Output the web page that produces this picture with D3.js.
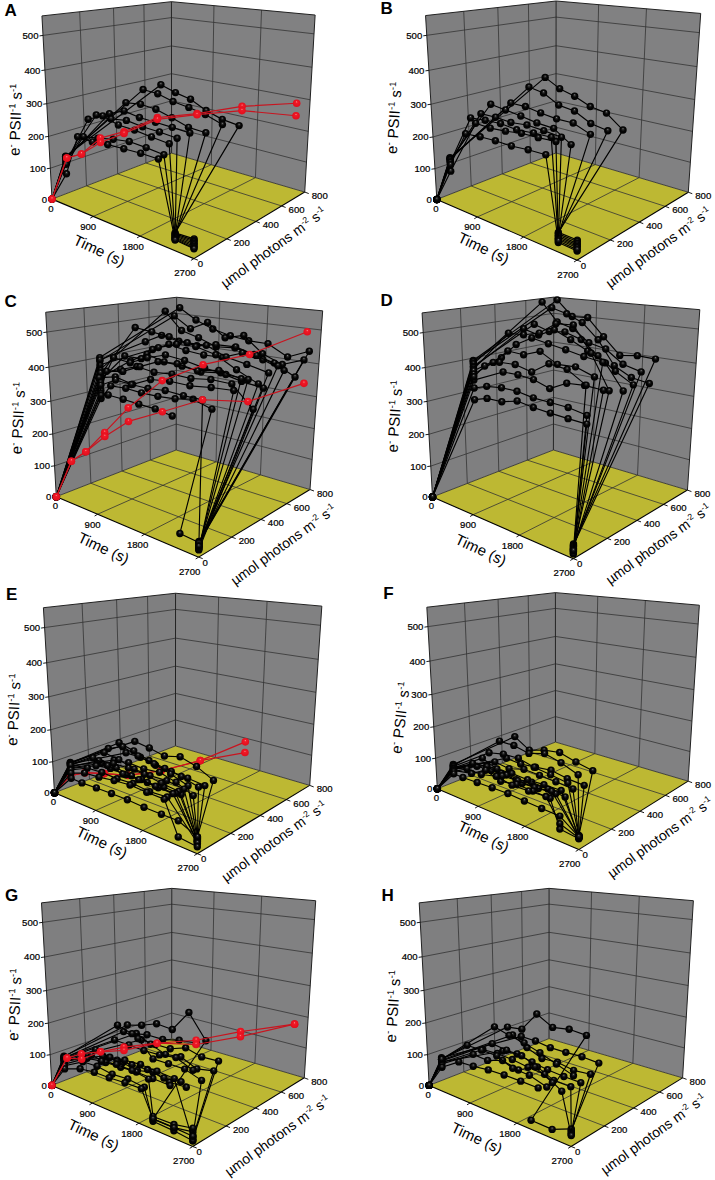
<!DOCTYPE html>
<html><head><meta charset="utf-8">
<script src="https://cdnjs.cloudflare.com/ajax/libs/d3/7.8.5/d3.min.js"></script>
<style>html,body{margin:0;padding:0;background:#fff}svg{display:block}
text{font-family:"Liberation Sans",Arial,sans-serif;fill:#000}</style></head><body>
<script>
// ---------- axis values ----------
const yTicks=[0,100,200,300,400,500], timeTicks=[0,900,1800,2700], parTicks=[0,200,400,600,800];
const yMax=555, timeMax=2700, parMax=800;
// ---------- shared time grids (s) ----------
const timesStd=[600,900,1200,1500,1800,2100];
const timesLong=[600,900,1200,1500,1800,2100,2400];
const timesC=[300,640,980,1320,1660,2000,2340,2680];
const redT=[0,320,578,860,1160,1480,1780,2050,2480];
const redP=[0,16,32,64,112,208,352,560,800];
// ---------- Panel A ----------
const parA=[520,400,290,190,115,70,40,10];
const firstA=[150,148,145,140,135,130,125,95];
const rowsA=[[313,297,286,261,245,238],[312,309,295,288,278,260],[285,291,287,273,257,254],[265,285,277,275,273,270],[272,272,280,274,272,268],[266,288,274,272,266,261],[219,228,238,245,242,237],[224,222,228,230,232,231]];
const dropA=[[50,54],[47,50],[44,46],[41,42],[38,38],[35,34],[32,30],[30,27]];
const redA=[[0,145,167,222,246,285,287,289,281],[0,145,167,209,241,280,284,276,241]];
// ---------- Panel B ----------
const parB=[520,411,295,176,119,62,32,88];
const firstB=[147,145,142,140,135,132,125,105];
const rowsB=[[337,310,296,274,265,225],[319,310,283,276,250,241],[284,284,276,270,270,250],[297,291,285,277,274,242],[277,278,275,280,277,272],[273,278,281,276,280,282],[231,235,237,236,240,241],[253,251,255,262,263,266]];
const dropB=[[55,55],[51,51],[47,46],[43,42],[39,38],[35,34],[31,29],[27,25]];
// ---------- Panel C ----------
const parC=[720,680,616,416,348,280,236,192,176,160,480,528,384,120,320];
const firstC=[407,397,370,354,338,322,306,296,280,290,400,385,345,330,360];
const rowsC=[[529,495,473,459,451,450,419,445],[505,470,497,456,471,424,401,424],[524,469,454,434,439,428,412,382],[487,481,474,464,465,441,430,417],[405,406,448,466,468,454,423,396],[407,401,425,442,436,425,418,416],[370,380,404,428,432,423,434,423],[356,369,358,383,389,388,395,399],[343,346,343,344,348,358,343],[318,316,313,311,303],[437,465,455,450,461,463,448,429],[408,433,422,417,419,441,431,411],[386,416,402,399,392,400,387,380],[352,377,374,373,378,375,375],[366,385,378,383,381,389,388,332]];
const timesRowC=[timesC,timesC,timesC,timesC,timesC,timesC,timesC,timesC,timesLong,timesLong,timesC,timesC,timesC,timesLong,timesC];
const dropC=[[null,43],[null,40],[null,38],[null,35],[null,30],[null,28],[null,25],[null,22],[44,40],[null,null],[null,36],[null,33],[null,20],[null,30],[null,26]];
const redC=[[0,128,167,232,308,383,420,435,490],[0,128,167,220,269,295,320,295,334]];
// ---------- Panel D ----------
const parD=[622,584,520,468,400,308,264,216,168,272,176,176];
const firstD=[409,405,399,392,388,383,378,368,360,350,326,290];
const rowsD=[[564,517,519,467,418,425,423],[542,528,507,461,391,365,357],[563,508,494,458,447,411,398],[499,483,488,472,433,397,368],[491,478,500,478,453,428,360],[485,487,498,530,532,464,373],[417,463,488,479,470,460,453],[408,449,446,463,436,438,421],[403,422,424,412,443,437,406],[373,374,369,353,378,382,379],[342,348,348,340,338,336,327],[306,307,320,313,309,306,304]];
const dropD=[[40],[37],[35],[33],[30],[28],[26],[24],[22],[20],[16],[13]];
// ---------- Panel E ----------
const parE=[320,224,160,104,72,40,24,8,120,192,136,264,88];
const firstE=[109,107,105,95,100,85,75,59,92,98,102,104,90];
const rowsE=[[134,127,116,129,115,89],[147,136,121,113,105,91],[141,161,148,140,126,109],[114,121,123,121,112,106],[129,121,112,112,110,107],[104,107,105,108,102,105],[92,96,103,107,104,103],[65,67,68,68,65,65],[102,104,96,93,97,93],[98,105,102,108,95,73],[133,126,113,110,112,105],[107,108,98,95,91,86],[101,109,106,109,102,104]];
const dropE=[[null,46],[null,40],[null,38],[null,36],[null,33],[null,30],[24,19],[69,46],[null,35],[null,42],[null,34],[null,44],[null,28]];
const redE=[[0,70,90,96,97,108,125,157],[0,70,90,96,97,108,125,123]];
// ---------- Panel F ----------
const parF=[312,216,152,184,112,56,0,48,24,80,256,136];
const firstF=[91,88,85,83,80,76,61,72,68,78,79,76];
const rowsF=[[140,110,125,133,119,109],[143,144,134,149,137,118],[118,129,132,121,115,108],[82,76,91,89,87,83],[109,91,94,92,95,96],[104,111,99,102,100,107],[72,74,76,77,74,72],[74,101,84,93,91,89],[94,93,105,96,97,100],[90,93,96,88,91,94],[79,76,82,89,80,77],[80,72,69,79,76,71]];
const dropF=[[null,39],[null,38],[null,37],[null,36],[null,35],[null,34],[71,35],[35,30],[50,32],[null,33],[null,36],[null,32]];
// ---------- Panel G ----------
const parG=[296,236,216,384,272,352,104,56,32,16,80,144,176];
const firstG=[110,108,106,100,104,102,90,85,80,70,92,96,98];
const rowsG=[[169,182,200,196,260,191],[179,166,177,177,189,196],[135,134,132,134,142,121],[104,103,104,122,109,112],[152,144,94,95,95,78],[131,110,92,100,78,89],[126,118,125,129,126,122],[109,116,123,122,114],[103,106,99,102,96],[85,91,92,95,96],[114,107,109,112,110,108],[98,101,103,105,97,104],[84,86,78,90,77,80]];
const dropG=[[30,30,40],[null,null,null],[null,null,null],[null,null,20],[null,null,30],[null,null,25],[null,null,16],[37,39,50],[23,21,16],[30,30,28],[null,null,null],[null,null,null],[null,null,null]];
const redG=[[0,103,127,141,161,170,166,167,168],[0,103,110,141,151,170,153,151,168]];
// ---------- Panel H ----------
const parH=[312,400,344,280,216,160,72,24,104,232];
const firstH=[100,105,98,92,95,90,100,75,85,100];
const rowsH=[[159,166,227,199,207,203],[112,111,104,104,106,102],[127,100,80,84,75,80],[86,92,82,74,70,69],[123,117,115,97,73,72],[115,118,115,108,104,72],[146,146,145,124,121,105],[104,107,113,115,115,114],[111,108,124,112,138,110],[174,161,152,137,119,101]];
const dropH=[[26,25,48],[null,null,44],[null,null,40],[null,null,36],[null,null,33],[null,null,30],[null,null,null],[null,null,null],[null,null,null],[null,null,null]];

const panels=[
 {id:"A",off:[0,0],   o:[155,597],f:[585,775],r:[915,575],b:[515,460],ot:[125,48],bt:[515,5],rt:[945,45],parV:parA,first:firstA,rows:rowsA,times:timesStd,drop:dropA,dropT:[2400,2700],firstT:300,firstP:15,red:redA,redTop:true,yl:[-108,-237,-88],tl:[142,155],pl:[665,148],letter:[32,28]},
 {id:"B",off:[360,0], o:[228,597],f:[655,780],r:[985,575],b:[590,460],ot:[197,47],bt:[588,3],rt:[1022,40],parV:parB,first:firstB,rows:rowsB,times:timesStd,drop:dropB,dropT:[2400,2700],firstT:300,firstP:15,yl:[-125,-242,-86],tl:[142,148],pl:[667,148],letter:[80,22]},
 {id:"C",off:[0,290], o:[167,620],f:[600,800],r:[930,598],b:[530,480],ot:[137,67],bt:[530,22],rt:[968,62],parV:parC,first:firstC,rows:rowsC,timesRow:timesRowC,drop:dropC,dropT:[2400,2700],firstT:150,firstP:240,red:redC,redTop:true,yl:[-112,-235,-87],tl:[143,155],pl:[683,147],letter:[32,30]},
 {id:"D",off:[360,290],o:[218,622],f:[640,805],r:[985,598],b:[580,480],ot:[187,67],bt:[580,22],rt:[1020,60],parV:parD,first:firstD,rows:rowsD,times:timesLong,drop:dropD,dropT:[2700],firstT:300,firstP:184,yl:[-113,-242,-86],tl:[144,158],pl:[677,143],letter:[80,28]},
 {id:"E",off:[0,585], o:[162,623],f:[595,805],r:[930,600],b:[527,483],ot:[130,68],bt:[527,25],rt:[965,63],parV:parE,first:firstE,rows:rowsE,times:timesStd,drop:dropE,dropT:[2400,2700],firstT:300,firstP:24,red:redE,redTop:false,yl:[-120,-248,-87],tl:[143,149],pl:[660,149],letter:[35,25]},
 {id:"F",off:[360,585],o:[230,610],f:[660,793],r:[985,587],b:[587,472],ot:[200,67],bt:[587,23],rt:[1017,60],parV:parF,first:firstF,rows:rowsF,times:timesStd,drop:dropF,dropT:[2400,2700],firstT:300,firstP:24,yl:[-108,-210,-83],tl:[140,145],pl:[670,150],letter:[85,20]},
 {id:"G",off:[0,880], o:[155,615],f:[580,800],r:[915,590],b:[515,478],ot:[125,68],bt:[515,25],rt:[947,63],parV:parG,first:firstG,rows:rowsG,times:timesStd,drop:dropG,dropT:[2050,2400,2700],firstT:300,firstP:5,red:redG,redTop:true,yl:[-110,-240,-87],tl:[125,150],pl:[677,155],letter:[35,42]},
 {id:"H",off:[360,880],o:[207,615],f:[635,800],r:[970,590],b:[567,478],ot:[178,68],bt:[567,25],rt:[1000,63],parV:parH,first:firstH,rows:rowsH,times:timesStd,drop:dropH,dropT:[2050,2400,2700],firstT:300,firstP:5,yl:[-107,-235,-86],tl:[143,160],pl:[673,150],letter:[83,42]}
];

const W=715,H=1180;
const svg=d3.select("body").append("svg").attr("width",W).attr("height",H);
svg.append("rect").attr("width",W).attr("height",H).attr("fill","#fff");
const defs=svg.append("defs");
function grad(id,stops){const g=defs.append("radialGradient").attr("id",id).attr("cx","50%").attr("cy","50%").attr("r","55%").attr("fx","50%").attr("fy","30%");
 stops.forEach(s=>g.append("stop").attr("offset",s[0]).attr("stop-color",s[1]));}
grad("ballK",[[0,"#8a8a8a"],[.2,"#2a2a2a"],[.5,"#050505"],[1,"#000"]]);
grad("ballR",[[0,"#ff8a8a"],[.25,"#f01a28"],[1,"#e00c1a"]]);

const tS=d3.scaleLinear().domain([0,timeMax]).range([0,1]);
const pS=d3.scaleLinear().domain([0,parMax]).range([0,1]);
const vS=d3.scaleLinear().domain([0,yMax]).range([0,1]);

function solve(A,b){const n=b.length,M=A.map((r,i)=>[...r,b[i]]);
 for(let c=0;c<n;c++){let m=c;for(let r=c+1;r<n;r++)if(Math.abs(M[r][c])>Math.abs(M[m][c]))m=r;[M[c],M[m]]=[M[m],M[c]];
  for(let r=0;r<n;r++){if(r===c)continue;const f=M[r][c]/M[c][c];for(let k=c;k<=n;k++)M[r][k]-=f*M[c][k];}}
 return M.map((r,i)=>r[n]/r[i]);}
function camera(pairs){const rows=[],rhs=[],N=300;
 pairs.forEach(([X,Y,Z,u,v])=>{u/=N;v/=N;
  rows.push([X,Y,Z,1,0,0,0,0,-u*X,-u*Y,-u*Z]);rhs.push(u);
  rows.push([0,0,0,0,X,Y,Z,1,-v*X,-v*Y,-v*Z]);rhs.push(v);});
 const ATA=d3.range(11).map(i=>d3.range(11).map(j=>d3.sum(rows,r=>r[i]*r[j])));
 const ATb=d3.range(11).map(i=>d3.sum(rows,(r,k)=>r[i]*rhs[k]));
 const p=solve(ATA,ATb);
 return (X,Y,Z)=>{const w=p[8]*X+p[9]*Y+p[10]*Z+1;return [N*(p[0]*X+p[1]*Y+p[2]*Z+p[3])/w,N*(p[4]*X+p[5]*Y+p[6]*Z+p[7])/w];};}

function supText(sel,parts,size){parts.forEach(([s,up])=>{
  sel.append("tspan").attr("font-size",up?size*.62:size).attr("dy",up===1?-size*.38:(up===0?size*.38:0)).text(s);});}

panels.forEach(P=>{
 const z=a=>[a[0]/3+P.off[0],a[1]/3+P.off[1]];
 const mix=(a,b,k)=>z([a[0]+(b[0]-a[0])*k,a[1]+(b[1]-a[1])*k]);
 const pr=camera([[0,0,0,...z(P.o)],[1,0,0,...z(P.f)],[1,1,0,...z(P.r)],[0,1,0,...z(P.b)],[0,0,1,...z(P.ot)],[0,1,1,...z(P.bt)],[1,1,1,...z(P.rt)],
  [1/3,0,0,...mix(P.o,P.f,.29)],[2/3,0,0,...mix(P.o,P.f,.62)],
  [1,.25,0,...mix(P.f,P.r,.27)],[1,.5,0,...mix(P.f,P.r,.565)],[1,.75,0,...mix(P.f,P.r,.78)],
  [0,.25,1,...mix(P.ot,P.bt,.295)],[0,.5,1,...mix(P.ot,P.bt,.55)],[0,.75,1,...mix(P.ot,P.bt,.79)],
  [1/3,1,1,...mix(P.bt,P.rt,.29)],[2/3,1,1,...mix(P.bt,P.rt,.63)]]);
 const pj=(t,p,v)=>pr(tS(t),pS(p),vS(v));
 const g=svg.append("g");
 const line=d3.line();
 const poly=(pts,fill)=>g.append("path").attr("d",line(pts)+"Z").attr("fill",fill).attr("stroke","none");
 const seg=(a,b,col,w)=>g.append("line").attr("x1",a[0]).attr("y1",a[1]).attr("x2",b[0]).attr("y2",b[1]).attr("stroke",col).attr("stroke-width",w);
 // walls + floor
 poly([pj(0,0,0),pj(0,parMax,0),pj(0,parMax,yMax),pj(0,0,yMax)],"#7f7f80");
 poly([pj(0,parMax,0),pj(timeMax,parMax,0),pj(timeMax,parMax,yMax),pj(0,parMax,yMax)],"#818182");
 poly([pj(0,0,0),pj(timeMax,0,0),pj(timeMax,parMax,0),pj(0,parMax,0)],"#bdb833");
 const gc="#333",gw=.8;
 yTicks.slice(1).forEach(v=>{seg(pj(0,0,v),pj(0,parMax,v),gc,gw);seg(pj(0,parMax,v),pj(timeMax,parMax,v),gc,gw);});
 parTicks.slice(1,-1).forEach(p=>{seg(pj(0,p,0),pj(0,p,yMax),gc,gw);seg(pj(0,p,0),pj(timeMax,p,0),gc,gw);});
 timeTicks.slice(1,-1).forEach(t=>{seg(pj(t,parMax,0),pj(t,parMax,yMax),gc,gw);seg(pj(t,0,0),pj(t,parMax,0),gc,gw);});
 // box edges
 [[pj(0,0,0),pj(0,0,yMax)],[pj(0,0,yMax),pj(0,parMax,yMax)],[pj(0,parMax,yMax),pj(timeMax,parMax,yMax)],[pj(timeMax,parMax,yMax),pj(timeMax,parMax,0)],[pj(0,parMax,0),pj(0,parMax,yMax)]].forEach(e=>seg(e[0],e[1],"#222",1));
 seg(pj(0,0,0),pj(timeMax,0,0),"#000",1.1);seg(pj(timeMax,0,0),pj(timeMax,parMax,0),"#000",1.1);
 seg(pj(0,0,0),pj(0,parMax,0),"#333",.9);seg(pj(0,parMax,0),pj(timeMax,parMax,0),"#333",.9);
 // ticks + labels
 const lab=(x,y,s,anc)=>g.append("text").attr("x",x).attr("y",y).attr("text-anchor",anc||"middle").attr("font-size",9.6).attr("stroke","#000").attr("stroke-width",.22).text(s);
 yTicks.forEach(v=>{const q=pj(0,0,v);if(v>0)seg(q,[q[0]-3.5,q[1]+.5],"#000",.9);lab(q[0]-(v>0?4.5:5),q[1]+3.5,v,"end");});
 const tDx=[-1,-5,-7,-9],tDy=[12.5,13.5,13.5,17.5];
 timeTicks.forEach((t,i)=>{const q=pj(t,0,0);if(t>0)seg(q,[q[0]-3,q[1]+1.8],"#000",.9);lab(q[0]+tDx[i],q[1]+tDy[i],t);});
 parTicks.forEach(p=>{const q=pj(timeMax,p,0);seg(q,[q[0]+4,q[1]+1.5],"#000",.9);lab(q[0]+(p?15:6.5),q[1]+(p?7:8.5),p);});
 // axis titles
 const o=z(P.o);
 const yl=g.append("text").attr("text-anchor","middle").attr("transform",`translate(${o[0]+P.yl[0]/3+5},${o[1]+P.yl[1]/3}) rotate(${P.yl[2]})`);
 supText(yl,[["e"],["-",1],[" PSII",0],["-1",1],[" s",0],["-1",1]],15);
 g.append("text").attr("text-anchor","middle").attr("font-size",15).attr("transform",`translate(${o[0]+P.tl[0]/3-2},${o[1]+P.tl[1]/3+4.5}) rotate(25)`).text("Time (s)");
 const pl=g.append("text").attr("text-anchor","middle").attr("transform",`translate(${o[0]+P.pl[0]/3+3},${o[1]+P.pl[1]/3+3}) rotate(-36)`);
 supText(pl,[["µmol photons m"],["-2",1],[" s",0],["-1",1]],14);
 const lt=z(P.letter);
 g.append("text").attr("x",lt[0]).attr("y",lt[1]+7).attr("text-anchor","middle").attr("font-weight","bold").attr("font-size",17).text(P.id);
 // marks
 const drawSeries=(pts,col,lw,ball,r)=>{
  g.append("path").attr("d",line(pts)).attr("fill","none").attr("stroke",col).attr("stroke-width",lw).attr("stroke-linejoin","round");
  g.selectAll(null).data(pts).enter().append("circle").attr("cx",d=>d[0]).attr("cy",d=>d[1]).attr("r",r).attr("fill",`url(#${ball})`);};
 const redPts=(P.red||[]).map(r=>r.map((v,i)=>pj(redT[i],redP[i],v)));
 if(P.red&&!P.redTop)redPts.forEach(r=>drawSeries(r,"#c8141f",1.2,"ballR",3.8));
 const order=d3.range(P.rows.length).sort((a,b)=>P.parV[b]-P.parV[a]);
 order.forEach(i=>{
  const ts=P.timesRow?P.timesRow[i]:P.times;
  const pts=[pj(0,0,0),pj(P.firstT,P.firstP,P.first[i])];
  P.rows[i].forEach((v,k)=>pts.push(pj(ts[k],P.parV[i],v)));
  P.drop[i].forEach((v,k)=>{if(v!==null)pts.push(pj(P.dropT[k],0,v));});
  drawSeries(pts,"#000",1.15,"ballK",3.7);
 });
 if(P.red&&P.redTop)redPts.forEach(r=>drawSeries(r,"#c8141f",1.2,"ballR",3.8));
});
</script></body></html>
